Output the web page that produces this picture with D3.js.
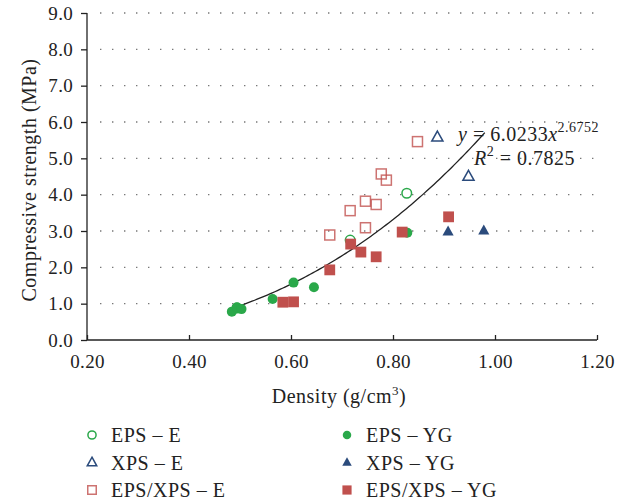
<!DOCTYPE html>
<html>
<head>
<meta charset="utf-8">
<script src="https://cdn.jsdelivr.net/npm/d3@7"></script>
<style>
  body { margin: 0; background: #fff; }
  svg { font-family: "Liberation Serif", "Times New Roman", serif; }
</style>
</head>
<body>
<div id="chart"></div>
<script>
// data
var epsE = [[0.827, 4.04], [0.716, 2.75], [0.494, 0.88]];
var epsYG = [[0.484, 0.78], [0.494, 0.90], [0.503, 0.85], [0.564, 1.13],
  [0.605, 1.58], [0.645, 1.45], [0.828, 2.95]];
var xpsE = [[0.887, 5.58], [0.948, 4.50]];
var xpsYG = [[0.908, 2.98], [0.978, 3.01]];
var mixE = [[0.848, 5.46], [0.777, 4.57], [0.787, 4.40], [0.746, 3.82],
  [0.767, 3.73], [0.716, 3.56], [0.746, 3.09], [0.676, 2.89]];
var mixYG = [[0.909, 3.39], [0.818, 2.97], [0.717, 2.64], [0.737, 2.42],
  [0.767, 2.29], [0.676, 1.93], [0.584, 1.04], [0.605, 1.05]];

var xTicks = [0.2, 0.4, 0.6, 0.8, 1.0, 1.2];
var yTicks = [0, 1, 2, 3, 4, 5, 6, 7, 8, 9];

// power-law trend line
var fitA = 6.0233, fitB = 2.6752;
var fitRange = [0.484, 0.98];

var green = "#2aa84a", blue = "#2b4b7c", red = "#c0504d";

var series = [
  {name: "EPS \u2013 E", data: epsE, shape: "circle", fill: false, color: green},
  {name: "XPS \u2013 E", data: xpsE, shape: "triangle", fill: false, color: blue},
  {name: "EPS/XPS \u2013 E", data: mixE, shape: "square", fill: false, color: red},
  {name: "EPS \u2013 YG", data: epsYG, shape: "circle", fill: true, color: green},
  {name: "XPS \u2013 YG", data: xpsYG, shape: "triangle", fill: true, color: blue},
  {name: "EPS/XPS \u2013 YG", data: mixYG, shape: "square", fill: true, color: red}
];

var width = 632, height = 504;
var margin = {top: 13, right: 35, bottom: 164, left: 87};
var textSize = "20px", textSpacing = "0.5px";

var svg = d3.select("#chart").append("svg")
  .attr("width", width)
  .attr("height", height);

var x = d3.scaleLinear().domain([0.2, 1.2]).range([margin.left, width - margin.right]);
var y = d3.scaleLinear().domain([0, 9]).range([height - margin.bottom, margin.top]);

// dotted grid
svg.append("g")
  .selectAll("line")
  .data(yTicks.slice(1))
  .enter().append("line")
  .attr("x1", x(0.2) + 13)
  .attr("x2", x(1.2))
  .attr("y1", function(d) { return y(d); })
  .attr("y2", function(d) { return y(d); })
  .style("stroke", "#777")
  .style("stroke-width", 1.4)
  .style("stroke-dasharray", "1.4,10.6");

// axes
var xAxis = svg.append("g")
  .attr("transform", "translate(0," + y(0) + ")")
  .call(d3.axisBottom(x).tickValues(xTicks).tickFormat(d3.format(".2f")).tickSize(-5).tickPadding(15));

var yAxis = svg.append("g")
  .attr("transform", "translate(" + x(0.2) + ",0)")
  .call(d3.axisLeft(y).tickValues(yTicks).tickFormat(d3.format(".1f")).tickSize(6).tickPadding(8));

[xAxis, yAxis].forEach(function(a) {
  a.select(".domain").style("stroke", "#222").style("stroke-width", 1.3);
  a.selectAll(".tick line").style("stroke", "#222").style("stroke-width", 1.3);
  a.selectAll(".tick text")
    .style("font-family", "Liberation Serif, serif")
    .style("font-size", "19px")
    .style("letter-spacing", "0.3px")
    .style("fill", "#222");
});
xAxis.select(".domain").attr("d", "M" + x(0.2) + ",0H" + x(1.2));
yAxis.select(".domain").attr("d", "M0," + y(9) + "V" + y(0));

// axis titles
var xTitle = svg.append("text")
  .attr("x", 339)
  .attr("y", 403)
  .attr("text-anchor", "middle")
  .style("font-size", textSize)
  .style("letter-spacing", textSpacing)
  .style("fill", "#222");
xTitle.append("tspan").text("Density (g/cm");
xTitle.append("tspan").attr("dy", -8).style("font-size", "13px").text("3");
xTitle.append("tspan").attr("dy", 8).text(")");

svg.append("text")
  .attr("transform", "translate(36," + 180 + ") rotate(-90)")
  .attr("text-anchor", "middle")
  .style("font-size", textSize)
  .style("letter-spacing", textSpacing)
  .style("fill", "#222")
  .text("Compressive strength (MPa)");

// trend line
var fitPts = d3.range(0, 101).map(function(i) {
  var xv = fitRange[0] + (fitRange[1] - fitRange[0]) * i / 100;
  return [xv, fitA * Math.pow(xv, fitB)];
});
svg.append("path")
  .datum(fitPts)
  .attr("d", d3.line().x(function(d) { return x(d[0]); }).y(function(d) { return y(d[1]); }))
  .style("fill", "none")
  .style("stroke", "#222")
  .style("stroke-width", 1.3);

// markers
function drawMarker(g, s, size) {
  var sym;
  if (s.shape === "circle") {
    sym = g.append("circle").attr("r", s.fill ? size * 0.5 : size * 0.48);
  } else if (s.shape === "square") {
    var w = s.fill ? size * 1.08 : size * 1.0;
    sym = g.append("rect").attr("x", -w / 2).attr("y", -w / 2).attr("width", w).attr("height", w);
  } else {
    var r = size * 0.62;
    sym = g.append("path").attr("d", "M0," + (-r) + "L" + (r * 0.9) + "," + (r * 0.62) + "L" + (-r * 0.9) + "," + (r * 0.62) + "Z");
  }
  if (s.fill) {
    sym.style("fill", s.color).style("stroke", "none");
  } else {
    sym.style("fill", "none").style("stroke", s.color).style("stroke-width", 1.5)
      .style("stroke-opacity", s.shape === "square" ? 0.8 : 1);
  }
}

series.forEach(function(s) {
  svg.append("g").selectAll("g")
    .data(s.data)
    .enter().append("g")
    .attr("transform", function(d) { return "translate(" + x(d[0]) + "," + y(d[1]) + ")"; })
    .each(function() { drawMarker(d3.select(this), s, 10); });
});

// equation label
var eq = svg.append("text")
  .attr("x", 458)
  .attr("y", 141)
  .style("font-size", textSize)
  .style("letter-spacing", textSpacing)
  .style("fill", "#222");
eq.append("tspan").style("font-style", "italic").text("y");
eq.append("tspan").text(" = 6.0233");
eq.append("tspan").style("font-style", "italic").text("x");
eq.append("tspan").attr("dy", -9).style("font-size", "14px").text("2.6752");

var r2 = svg.append("text")
  .attr("x", 474)
  .attr("y", 165)
  .style("font-size", textSize)
  .style("letter-spacing", textSpacing)
  .style("fill", "#222");
r2.append("tspan").style("font-style", "italic").text("R");
r2.append("tspan").attr("dy", -9).style("font-size", "14px").text("2");
r2.append("tspan").attr("dy", 9).text(" = 0.7825");

// legend
var entries = svg.append("g").selectAll("g")
  .data(series)
  .enter().append("g")
  .attr("transform", function(d, i) {
    var col = Math.floor(i / 3), row = i % 3;
    return "translate(" + (92 + col * 255) + "," + (435 + row * 27.5) + ")";
  });
entries.each(function(d) { drawMarker(d3.select(this), d, 8.5); });
entries.append("text")
  .attr("x", 19)
  .attr("dy", "0.35em")
  .style("font-size", textSize)
  .style("letter-spacing", textSpacing)
  .style("fill", "#222")
  .text(function(d) { return d.name; });
</script>
</body>
</html>
